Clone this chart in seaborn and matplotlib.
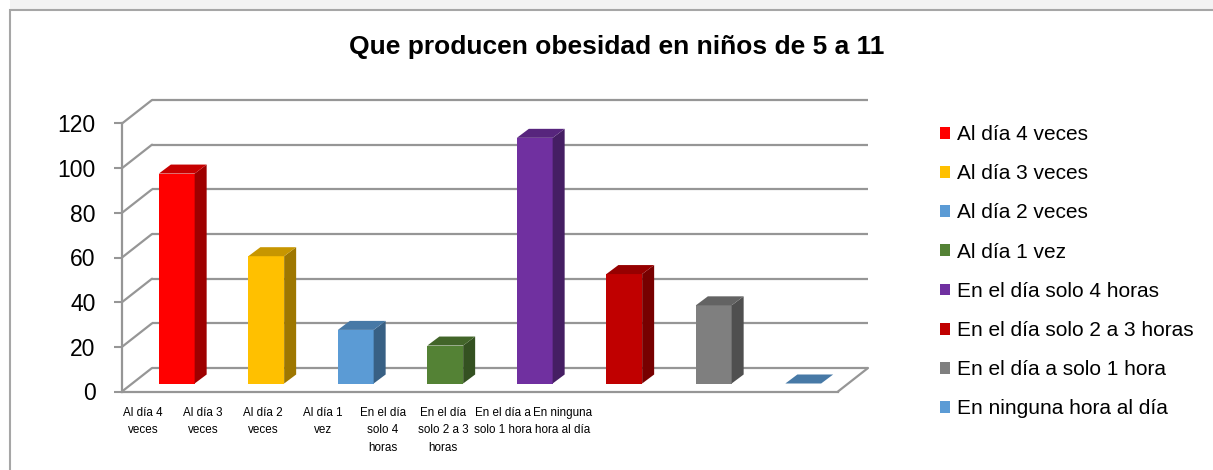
import matplotlib
matplotlib.use("Agg")
import matplotlib.pyplot as plt
from matplotlib.patches import Polygon, Patch, Rectangle
import matplotlib.colors as mcolors
import numpy as np
import pandas as pd
import seaborn as sns

# Data
categories = ["Al día 4 veces", "Al día 3 veces", "Al día 2 veces", "Al día 1 vez",
              "En el día solo 4 horas", "En el día solo 2 a 3 horas",
              "En el día a solo 1 hora", "En ninguna hora al día"]
tick_labels = ["Al día 4\nveces", "Al día 3\nveces", "Al día 2\nveces", "Al día 1\nvez",
               "En el día\nsolo 4\nhoras", "En el día\nsolo 2 a 3\nhoras",
               "En el día a\nsolo 1 hora", "En ninguna\nhora al día"]
values = [94, 57, 24, 17, 110, 49, 35, 0]
colors = ["#FF0000", "#FFC000", "#5B9BD5", "#548235",
          "#7030A0", "#C00000", "#7F7F7F", "#5B9BD5"]
y_ticks = [0, 20, 40, 60, 80, 100, 120]

W, H = 1213, 470
GRID = "#969696"

sns.set_style("white")
plt.rcParams['font.family'] = ['Liberation Sans', 'DejaVu Sans']
plt.rcParams['text.color'] = 'black'
plt.rcParams['xtick.labelcolor'] = 'black'
plt.rcParams['ytick.labelcolor'] = 'black'

fig = plt.figure(figsize=(W / 100, H / 100), dpi=100)
# front plane of the 3d box, in pixels
ax_l, ax_r, ax_b, ax_t = 122, 838, 391.5, 123.5
ax = fig.add_axes([ax_l / W, (H - ax_b) / H, (ax_r - ax_l) / W, (ax_b - ax_t) / H])

df = pd.DataFrame({"cat": categories, "val": values})
sns.barplot(data=df, x="cat", y="val", hue="cat", palette=colors, order=categories,
            hue_order=categories, width=0.4, saturation=1, legend=False, ax=ax,
            zorder=3, linewidth=0)
ax.set_xlim(-0.5, len(categories) - 0.5)
ax.set_ylim(0, 120)

# pixel -> data unit helpers for the fake depth
sx = (ax_r - ax_l) / len(categories)
sy = (ax_b - ax_t) / 120.0
def off(px, py):
    return px / sx, py / sy

wx, wy = off(30, 23.5)     # back wall
fx, fy = off(10, 8)        # bar front face
dx, dy = off(12, 9)        # bar depth

x_lo, x_hi = -0.5, len(categories) - 0.5
for t in y_ticks:
    ax.plot([x_lo + wx, x_hi + wx], [t + wy, t + wy], color=GRID, lw=1.6,
            clip_on=False, zorder=1, solid_capstyle='butt')
    ax.plot([x_lo, x_lo + wx], [t, t + wy], color=GRID, lw=1.6, clip_on=False, zorder=1)
ax.plot([x_hi, x_hi + wx], [0, wy], color=GRID, lw=1.6, clip_on=False, zorder=1)

for p in list(ax.patches):
    x0, w, h = p.get_x(), p.get_width(), p.get_height()
    base = np.array(mcolors.to_rgb(p.get_facecolor()))
    p.set_x(x0 + fx)
    p.set_y(fy)
    p.set_clip_on(False)
    a, b, top = x0 + fx, x0 + fx + w, fy + h
    side = Polygon([(b, fy), (b + dx, fy + dy), (b + dx, top + dy), (b, top)],
                   closed=True, facecolor=base * 0.62, lw=0, zorder=3, clip_on=False)
    lid = Polygon([(a, top), (b, top), (b + dx, top + dy), (a + dx, top + dy)],
                  closed=True, facecolor=base * 0.78, lw=0, zorder=3, clip_on=False)
    ax.add_patch(side)
    ax.add_patch(lid)

for s in ["top", "right"]:
    ax.spines[s].set_visible(False)
for s in ["left", "bottom"]:
    ax.spines[s].set_color(GRID)
    ax.spines[s].set_linewidth(1.6)

ax.set_yticks(y_ticks)
ax.tick_params(axis='y', length=6, width=1.5, color=GRID, labelsize=16.5, pad=13,
               direction='out', left=True)

# category labels sit compressed toward the left, as in the source chart
label_px = 143 + 60 * np.arange(len(categories))
ax.set_xticks((label_px - ax_l) / sx - 0.5)
ax.set_xticklabels(tick_labels, fontsize=8.4, linespacing=1.6)
ax.tick_params(axis='x', length=0, pad=11)
ax.set_xlabel("")
ax.set_ylabel("")

fig.text(617 / W, 1 - 47 / H, "Que producen obesidad en niños de 5 a 11",
         ha="center", va="center", fontsize=19, fontweight="bold")

handles = [Patch(facecolor=c, edgecolor="none") for c in colors]
fig.legend(handles, categories, loc="upper left", bbox_to_anchor=(940 / W, 1 - 125 / H),
           frameon=False, fontsize=15, handlelength=0.5, handleheight=0.5,
           handletextpad=0.3, labelspacing=0.97, borderpad=0, borderaxespad=0)

# chart area frame
fig.add_artist(Rectangle((10 / W, 1 - 10 / H), 1, 10 / H, transform=fig.transFigure,
                         facecolor="#f3f3f3", lw=0))
fig.add_artist(Rectangle((10 / W, -0.1), 1.2, 1 - 10 / H + 0.1, transform=fig.transFigure,
                         fill=False, edgecolor="#a6a6a6", lw=1.5))

fig.savefig("out.png", dpi=100)
